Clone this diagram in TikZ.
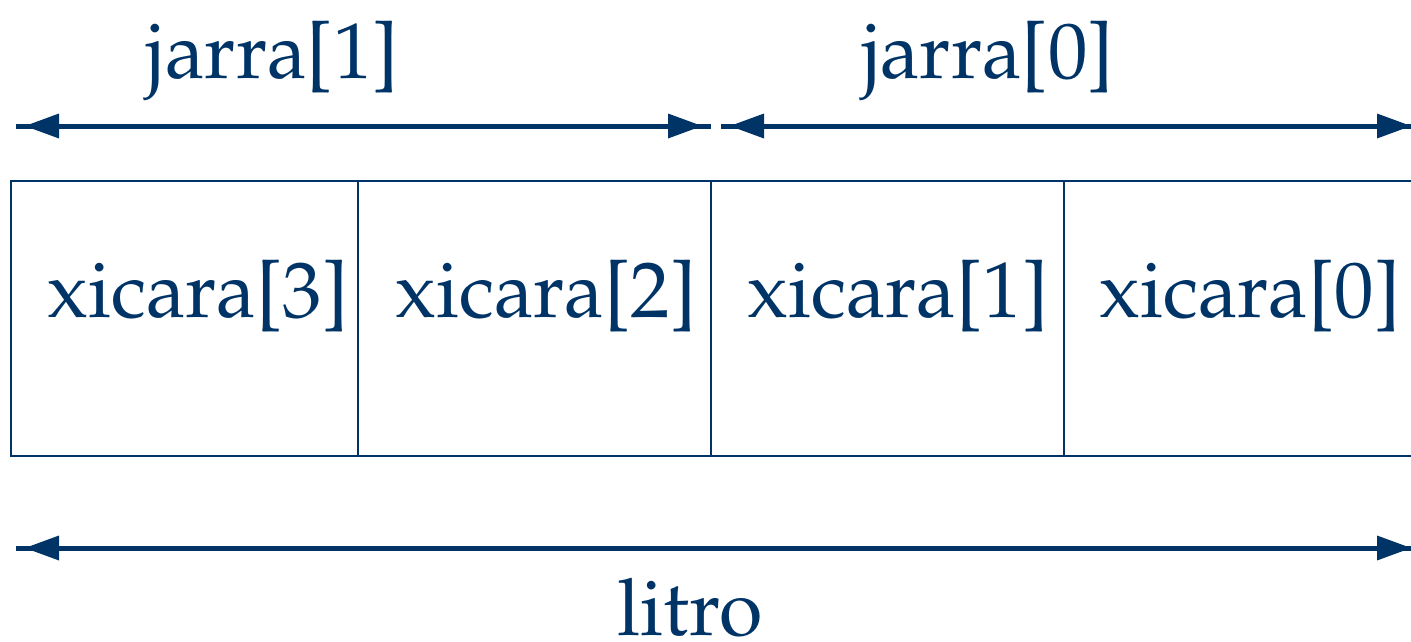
\documentclass[tikz,border=0pt]{standalone}
\IfFileExists{mathpazo.sty}{\usepackage[T1]{fontenc}\usepackage{mathpazo}}{\usepackage{fontspec}\setmainfont{Liberation Serif}}
\usetikzlibrary{arrows.meta}
\definecolor{navy}{HTML}{003366}
\begin{document}
\begin{tikzpicture}[x=1pt,y=-1pt,
  lbl/.style={text=navy,font=\fontsize{79}{92}\selectfont,anchor=base,inner sep=0pt},
  cell/.style={draw=navy,line width=1.6pt},
  shaft/.style={draw=navy,line width=5pt},
  heads/.style={draw=navy,fill=navy,line width=0pt,shorten <=9pt,shorten >=9pt,
    {Triangle[length=34pt,width=25pt]}-{Triangle[length=34pt,width=25pt]}}]
\useasboundingbox (0,0) rectangle (1411,642);
\begin{scope}
\clip (0,0) rectangle (1411,642);
% four cells of the litro
\draw[cell] (11,181) rectangle (358,456);
\draw[cell] (358,181) rectangle (711,456);
\draw[cell] (711,181) rectangle (1064,456);
\draw[cell] (1064,181) rectangle (1420,456);
\node[lbl] (x3) at (198,317) {xicara[3]};
\node[lbl] (x2) at (546,317) {xicara[2]};
\node[lbl] (x1) at (898,317) {xicara[1]};
\node[lbl] (x0) at (1250,317) {xicara[0]};
% dimension arrows
\coordinate (a1) at (16,126);
\coordinate (b1) at (711,126);
\coordinate (a0) at (721,126);
\coordinate (b0) at (1420,126);
\coordinate (al) at (16,548);
\coordinate (bl) at (1420,548);
\draw[shaft] (a1) -- (b1);
\draw[shaft] (a0) -- (b0);
\draw[shaft] (al) -- (bl);
\path[heads] (a1) -- (b1);
\path[heads] (a0) -- (b0);
\path[heads] (al) -- (bl);
\node[lbl] (j1) at (273,78) {jarra[1]};
\node[lbl] (j0) at (988,78) {jarra[0]};
\node[lbl] (l) at (690,635) {litro};
\end{scope}
\end{tikzpicture}
\end{document}
